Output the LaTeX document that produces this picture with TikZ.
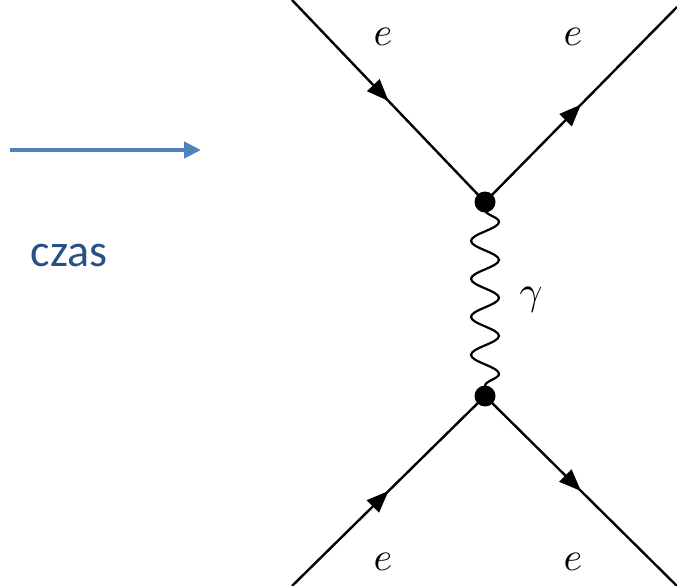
\documentclass[tikz,border=0pt]{standalone}
\usepackage{fontspec}
\newfontfamily\calibri{Carlito}
\usepackage{xcolor}
\usetikzlibrary{positioning,arrows.meta,decorations.pathmorphing,decorations.markings}

\definecolor{timeblue}{RGB}{79,129,189}
\definecolor{textblue}{RGB}{40,80,135}

\tikzset{
  fermion/.style={line width=2.4pt, postaction={decorate},
    decoration={markings, mark=at position 0.5 with {\arrow{Triangle[length=22pt,width=17pt]}}}},
  photon/.style={line width=2.2pt, decorate,
    decoration={snake, amplitude=14pt, segment length=38pt, pre length=8pt, post length=8pt}},
  vertexdot/.style={circle, fill, inner sep=0pt, minimum size=21pt},
  lbl/.style={scale=4},
}

\begin{document}
\begin{tikzpicture}[x=1pt, y=-1pt]
\useasboundingbox (0,0) rectangle (677,586);
% time axis
\coordinate (t0) at (10,150);
\coordinate (t1) at (201,150);
\draw[timeblue, line width=4.5pt, -{Triangle[length=17pt,width=16pt]}] (t0) -- (t1);
\node[textblue, font=\calibri\fontsize{46}{50}\selectfont] (czas) at (69,255) {czas};
% external legs
\coordinate (inA) at (292,0);
\coordinate (outA) at (677,7);
\coordinate (inB) at (292,586);
\coordinate (outB) at (677,586);
% vertices
\node[vertexdot] (v1) at (485,202) {};
\node[vertexdot] (v2) at (485,396) {};
\draw[fermion] (inA) -- (v1.center);
\draw[fermion] (v1.center) -- (outA);
\draw[fermion] (inB) -- (v2.center);
\draw[fermion] (v2.center) -- (outB);
\draw[photon] (v1.center) -- (v2.center);
% labels
\node[lbl] (eA) at (383,37) {$e$};
\node[lbl] (eB) at (573,37) {$e$};
\node[lbl] (eC) at (383,562) {$e$};
\node[lbl] (eD) at (573,562) {$e$};
\node[lbl] (gam) at (531,300) {$\gamma$};
\end{tikzpicture}
\end{document}
